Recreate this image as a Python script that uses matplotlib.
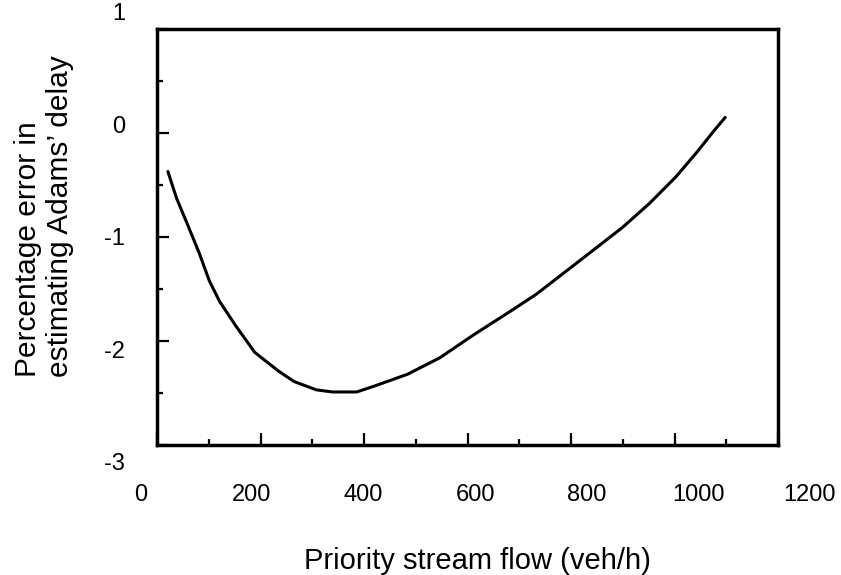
import numpy as np
import matplotlib.pyplot as plt
import matplotlib.transforms as mtransforms
from matplotlib.ticker import MultipleLocator

plt.rcParams['font.family'] = ['Liberation Sans', 'DejaVu Sans']

# Curve (in the frame's tick scale)
flow = [21, 38, 59, 82, 101, 121, 153, 189, 235, 265, 308, 339, 386, 422,
        484, 547, 609, 681, 733, 785, 837, 899, 951, 1003, 1044, 1076, 1098]
error = [-0.37, -0.63, -0.88, -1.16, -1.42, -1.62, -1.86, -2.11, -2.29, -2.39,
         -2.47, -2.49, -2.49, -2.43, -2.32, -2.16, -1.95, -1.72, -1.55, -1.35,
         -1.15, -0.91, -0.68, -0.42, -0.18, 0.02, 0.15]

x_labels = [0, 200, 400, 600, 800, 1000, 1200]
y_labels = [1, 0, -1, -2, -3]

fig = plt.figure(figsize=(8.41, 5.75), dpi=100)
ax = fig.add_axes([157 / 841, 130 / 575, 621 / 841, 416 / 575])

ax.plot(flow, error, color='black', lw=2.2, solid_capstyle='round',
        solid_joinstyle='round')

ax.set_xlim(0, 1200)
ax.set_ylim(-3, 1)

for side in ['left', 'right', 'top', 'bottom']:
    ax.spines[side].set_linewidth(2.5)

# inward ticks; labels drawn by hand since the scan spreads them out
ax.xaxis.set_major_locator(MultipleLocator(200))
ax.xaxis.set_minor_locator(MultipleLocator(100))
ax.yaxis.set_major_locator(MultipleLocator(1))
ax.yaxis.set_minor_locator(MultipleLocator(0.5))
ax.tick_params(which='major', direction='in', length=8.5, width=1.6,
               labelbottom=False, labelleft=False)
ax.tick_params(which='minor', direction='in', length=4.5, width=1.6)

xtrans = mtransforms.blended_transform_factory(ax.transData, ax.transAxes)
for v in x_labels:
    ax.text(-32 + 1.078 * v, -0.121, str(v), transform=xtrans,
            ha='center', va='center', fontsize=17)

ytrans = mtransforms.blended_transform_factory(ax.transAxes, ax.transData)
for v in y_labels:
    ax.text(-0.0515, 0.06 + 1.081 * v, str(v), transform=ytrans,
            ha='right', va='center', fontsize=17)

fig.text(477 / 841, 1 - 561 / 575, 'Priority stream flow (veh/h)',
         ha='center', va='center', fontsize=21)
fig.text(44 / 841, 1 - 377 / 575, 'Percentage error in\nestimating Adams\u2019 delay',
         rotation=90, ha='center', va='bottom', multialignment='left',
         fontsize=21.5, linespacing=1.2)

fig.savefig('out.png', dpi=100)
